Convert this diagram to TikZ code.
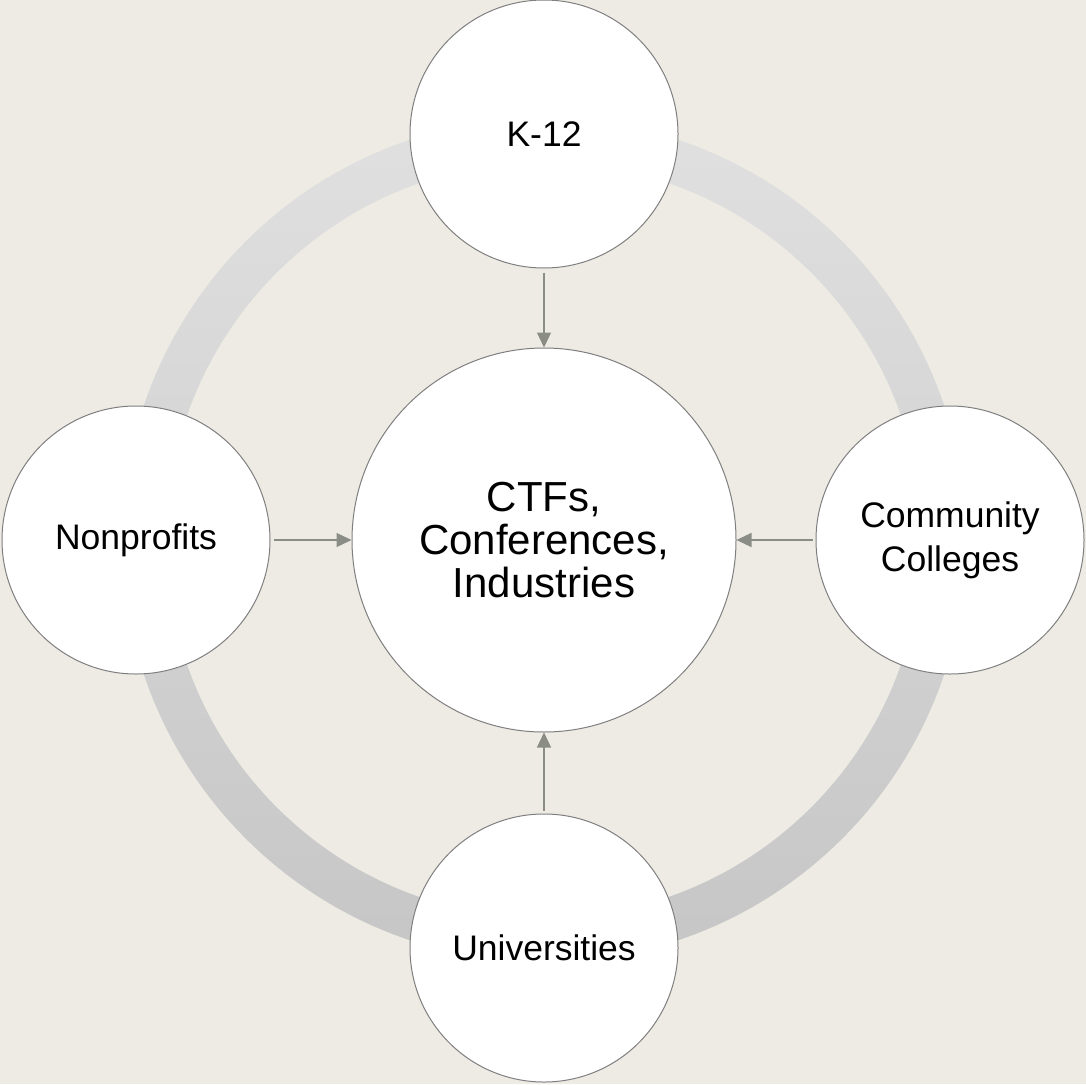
\documentclass[tikz,border=0pt]{standalone}
\usepackage{fontspec}
\setmainfont{Liberation Sans}
\usetikzlibrary{arrows.meta}
\definecolor{bgbeige}{HTML}{EEEBE4}
\definecolor{ringtop}{HTML}{E0E0E0}
\definecolor{ringbot}{HTML}{C6C6C6}
\definecolor{rimgray}{HTML}{7F7F7F}
\definecolor{arrowgray}{HTML}{8A8C86}
\begin{document}
\begin{tikzpicture}[x=1pt,y=-1pt]
                \tikzset{every node/.style={font=\fontsize{35.5}{44}\selectfont, align=center}}
                \tikzset{hub/.style={circle, draw=rimgray, line width=1pt, fill=white, inner sep=0pt}}
                \tikzset{link/.style={draw=arrowgray, line width=1.3pt, -{Triangle[length=15pt,width=14pt]}}}
                \fill[bgbeige] (0,0) rectangle (1086,1084);
                \useasboundingbox (0,0) rectangle (1086,1084);
                \shade[even odd rule, top color=ringtop, bottom color=ringbot]
                    (544,540) circle (422pt) (544,540) circle (378pt);
                \node[hub, minimum size=384pt, font=\fontsize{42}{43}\selectfont] (ctr) at (544,540) {CTFs,\\Conferences,\\Industries};
                \node[hub, minimum size=268pt] (kt) at (544,134) {K-12};
                \node[hub, minimum size=268pt] (nonp) at (136,540) {Nonprofits};
                \node[hub, minimum size=268pt] (comm) at (950,540) {Community\\Colleges};
                \node[hub, minimum size=268pt] (univ) at (544,948) {Universities};
                \draw[link, shorten <=4pt] (kt) -- (ctr);
                \draw[link, shorten <=3pt] (nonp) -- (ctr);
                \draw[link, shorten <=3pt] (comm) -- (ctr);
                \draw[link, shorten <=3pt] (univ) -- (ctr);
            \end{tikzpicture}
\end{document}
